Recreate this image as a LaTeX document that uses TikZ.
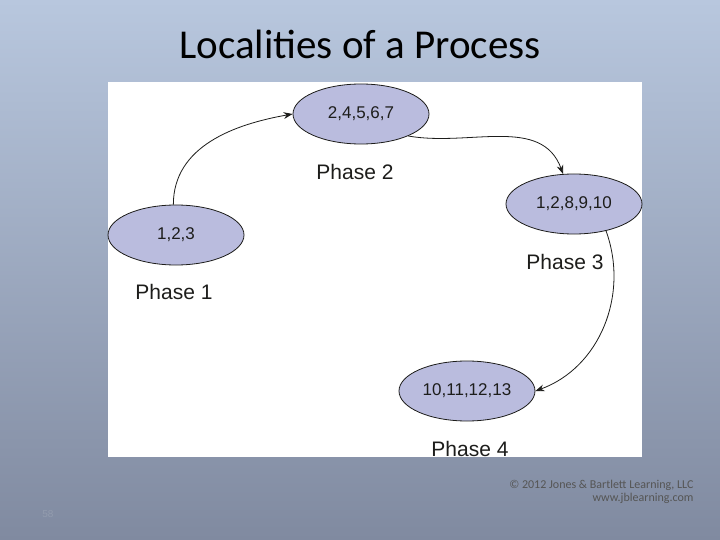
\documentclass[tikz,border=0pt]{standalone}
\usepackage{fontspec}
\setmainfont{Liberation Sans}
\newfontfamily\titlefont{Carlito}
\usetikzlibrary{positioning,arrows.meta,shapes.geometric}
\definecolor{colorbgtop}   {RGB}{184,199,222}
\definecolor{colorbgbot}   {RGB}{128,138,160}
\definecolor{colorlocal}   {RGB}{186,188,222}
\definecolor{colortext}    {RGB}{29 ,29 ,27 }

\begin{document}
\begin{tikzpicture}[
    x=1pt, y=-1pt,
    locality/.style={ellipse,draw=colortext,thick,fill=colorlocal,minimum width=136pt,minimum height=60pt,font={\fontsize{17}{19}\selectfont},text=colortext},
    phase/.style={font={\fontsize{21}{24}\selectfont},text=colortext},
    jump/.style={-{Stealth[length=9pt]},thick,colortext},
]
    % Background
    \shade[top color=colorbgtop,bottom color=colorbgbot] (0,0) rectangle (720,540);
    \useasboundingbox (0,0) rectangle (720,540);
    \node[font={\titlefont\fontsize{41}{45}\selectfont},text=black] (title) at (360,44) {Localities of a Process};
    \fill[white] (108,82) rectangle (642,457);

    % Localities
    \node[locality] (loc1) at (176,235) {1,2,3};
    \node[locality] (loc2) at (361,114) {2,4,5,6,7};
    \node[locality] (loc3) at (574,204) {1,2,8,9,10};
    \node[locality] (loc4) at (467,391) {10,11,12,13};

    % Phases
    \node[phase] (phase1) at (174,292) {Phase 1};
    \node[phase] (phase2) at (355,172) {Phase 2};
    \node[phase] (phase3) at (565,262) {Phase 3};
    \node[phase] (phase4) at (470,449) {Phase 4};

    % Arrows
    \draw[jump] (loc1.95) to [out=90,in=190] (loc2.west);
    \draw[jump] (loc2.-25) to [out=-10,in=110] (loc3.110);
    \draw[jump] (loc3.-40) to [out=-70,in=20] (loc4.east);

    % Footer
    \node[font={\titlefont\fontsize{12}{13}\selectfont},text=colortext!75,align=right,anchor=north east] (copy) at (697,477) {\textcopyright{} 2012 Jones \& Bartlett Learning, LLC\\www.jblearning.com};
    \node[font={\fontsize{10}{12}\selectfont},text=colorbgbot!85!white] (pagenum) at (48,514) {58};
\end{tikzpicture}
\end{document}
